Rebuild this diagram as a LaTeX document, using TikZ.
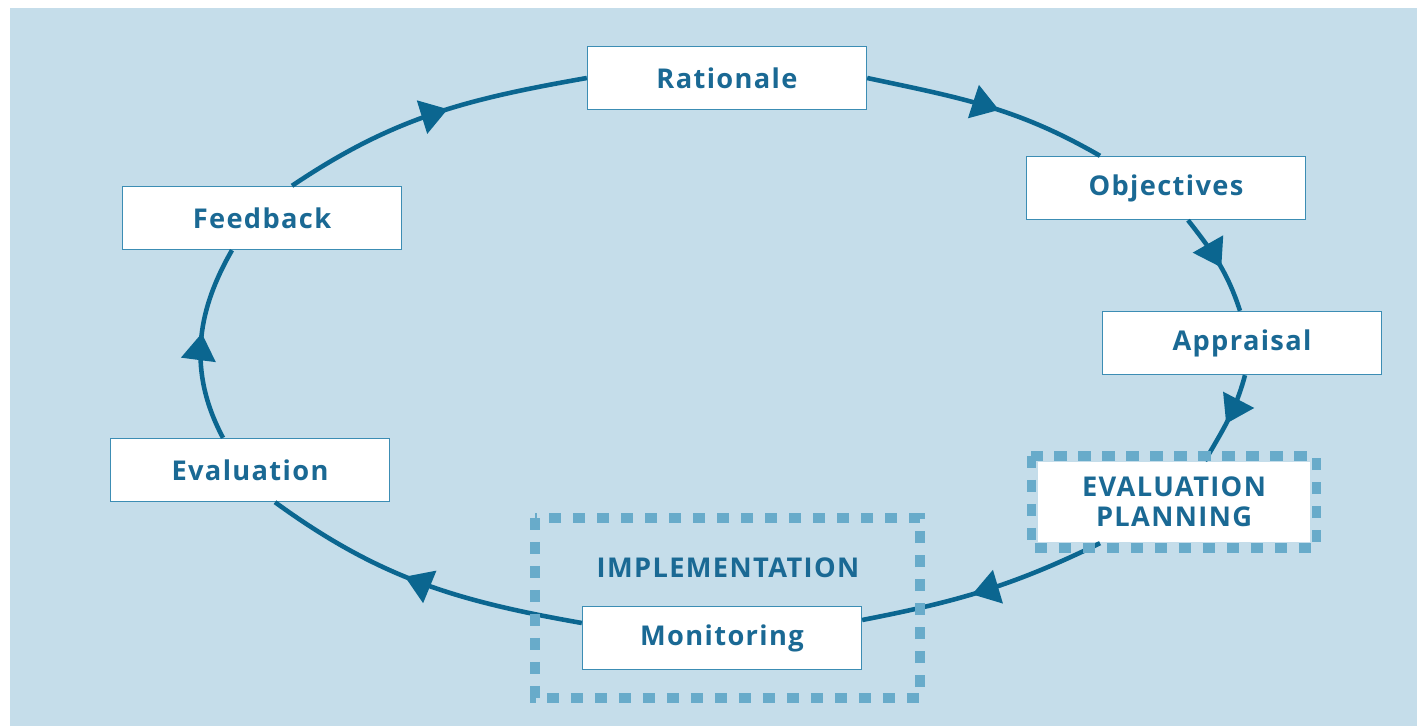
\documentclass[tikz,border=0pt]{standalone}
\usepackage{fontspec}
\setmainfont[LetterSpace=5]{Open Sans}
\usetikzlibrary{arrows.meta,decorations.markings}

\definecolor{bgblue}{HTML}{C5DDEA}
\definecolor{flowblue}{HTML}{0B6690}
\definecolor{textblue}{HTML}{1A6994}
\definecolor{edgeblue}{HTML}{3C8DB4}
\definecolor{dotblue}{HTML}{68ABCA}

\begin{document}
\begin{tikzpicture}[x=0.02cm, y=-0.02cm,
    stage/.style={draw=edgeblue, line width=0.8pt, fill=white, minimum width=5.58cm,
        minimum height=1.26cm, text=textblue, font=\fontsize{15.5}{17}\selectfont\bfseries},
    flow/.style={flowblue, line width=2.6pt, postaction={decorate, decoration={markings,
        mark=at position 0.55 with {\arrow{Triangle[length=0.54cm, width=0.68cm]}}}}},
    dotbox/.style={dotblue, line width=0.19cm, dash pattern=on 0.25cm off 0.23cm}]

    % Background
    \useasboundingbox (0,0) rectangle (1417,726);
    \fill[bgblue] (10,8) rectangle (1417,726);

    % Stages
    \node[stage] (rat) at (727,78) {Rationale};
    \node[stage] (obj) at (1166,188) {Objectives};
    \node[stage] (app) at (1242,343) {Appraisal};
    \node[stage, draw=none, minimum width=5.44cm, minimum height=1.62cm, align=center]
        (ep) at (1174,502) {EVALUATION\\PLANNING};
    \node[stage] (mon) at (722,638) {Monitoring};
    \node[stage] (eva) at (250,470) {Evaluation};
    \node[stage] (fb) at (262,218) {Feedback};
    \node[text=textblue, font=\fontsize{15.5}{17}\selectfont\bfseries] (impl) at (728,568) {IMPLEMENTATION};

    % Cycle
    \draw[flow] (rat.east) to[out=-12, in=150] ([shift={(-66,0)}]obj.north);
    \draw[flow] ([shift={(22,0)}]obj.south) to[out=-52, in=108] ([shift={(-2,0)}]app.north);
    \draw[flow] ([shift={(3,0)}]app.south) to[out=-105, in=60] ([shift={(31,0)}]ep.north);
    \draw[flow] ([shift={(-74,0)}]ep.south) to[out=-154, in=11] ([shift={(0,-18)}]mon.east);
    \draw[flow] ([shift={(0,-15)}]mon.west) to[out=170, in=-36] ([shift={(25,0)}]eva.south);
    \draw[flow] ([shift={(-27,0)}]eva.north) to[out=118, in=-120] ([shift={(-30,0)}]fb.south);
    \draw[flow] ([shift={(30,0)}]fb.north) to[out=34, in=-170] (rat.west);

    % Dotted frames
    \draw[dotbox] ([shift={(-6,-5)}]ep.north west) rectangle ([shift={(6,5)}]ep.south east);
    \draw[dotbox] (535,518) rectangle (920,698);
\end{tikzpicture}
\end{document}
